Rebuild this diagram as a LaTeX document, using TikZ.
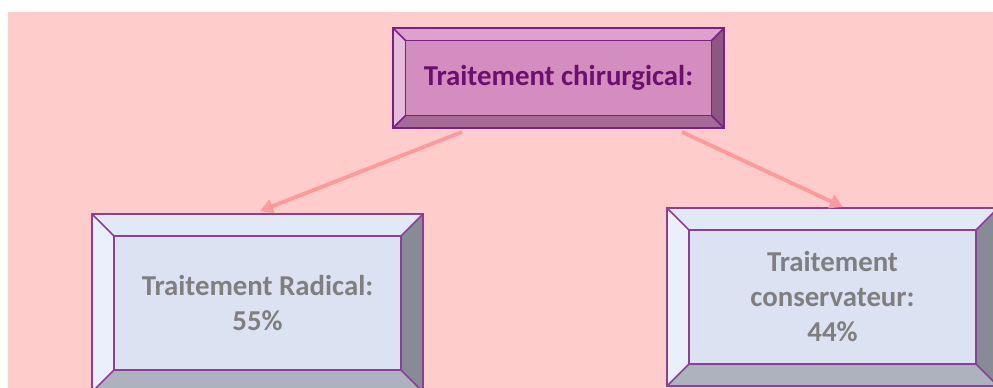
\documentclass[tikz,border=0pt]{standalone}
\usepackage{fontspec}
\setmainfont{Carlito}
\usetikzlibrary{arrows.meta,calc}
\definecolor{bg}{HTML}{FFCCCC}
\definecolor{arr}{HTML}{FF9A9A}
\definecolor{tface}{HTML}{D38DBE}
\definecolor{ttop}{HTML}{DCA2CC}
\definecolor{tleft}{HTML}{E6BADB}
\definecolor{tright}{HTML}{8D5781}
\definecolor{tbot}{HTML}{A76A97}
\definecolor{tbord}{HTML}{7B2184}
\definecolor{ttext}{HTML}{6B106F}
\definecolor{lface}{HTML}{DBE3F3}
\definecolor{ltop}{HTML}{E2E9F6}
\definecolor{lleft}{HTML}{EAF0FB}
\definecolor{lright}{HTML}{878B95}
\definecolor{lbot}{HTML}{ADB3BE}
\definecolor{lbord}{HTML}{8E3E98}
\definecolor{ltext}{HTML}{7F7F7F}
\newcommand\bevelbox[7]{%
  \coordinate (#1-inw) at ($(#1.north west)+(#2,#2)$);
  \coordinate (#1-ine) at ($(#1.north east)+(-#2,#2)$);
  \coordinate (#1-ise) at ($(#1.south east)+(-#2,-#2)$);
  \coordinate (#1-isw) at ($(#1.south west)+(#2,-#2)$);
  \fill[#3] (#1.north west) -- (#1.north east) -- (#1-ine) -- (#1-inw) -- cycle;
  \fill[#4] (#1.north west) -- (#1-inw) -- (#1-isw) -- (#1.south west) -- cycle;
  \fill[#5] (#1.north east) -- (#1.south east) -- (#1-ise) -- (#1-ine) -- cycle;
  \fill[#6] (#1.south west) -- (#1-isw) -- (#1-ise) -- (#1.south east) -- cycle;
  \draw[#7, line width=2pt] (#1.north west) rectangle (#1.south east);
  \draw[#7, line width=1.6pt] (#1-inw) rectangle (#1-ise);
  \draw[#7, line width=1.6pt] (#1.north west) -- (#1-inw) (#1.north east) -- (#1-ine)
    (#1.south east) -- (#1-ise) (#1.south west) -- (#1-isw);
}
\begin{document}
\begin{tikzpicture}[x=1pt,y=-1pt,
  boxbase/.style={inner sep=0pt, outer sep=0pt, minimum width=331pt, align=center,
    font=\fontsize{28.8}{35}\selectfont\bfseries},
  topbox/.style={boxbase, fill=tface, text=ttext, minimum height=100pt},
  lowbox/.style={boxbase, fill=lface, text=ltext, minimum height=178pt},
  link/.style={draw=arr, line width=3.8pt, -{Triangle[length=13pt,width=14pt]}}]
\useasboundingbox (0,0) rectangle (993,388);
\clip (0,0) rectangle (993,388);
\fill[white] (0,0) rectangle (993,388);
\fill[bg] (8,12) rectangle (993,388);
\node[topbox] (top) at (558.5,78) {Traitement chirurgical:};
\bevelbox{top}{12.5}{ttop}{tleft}{tright}{tbot}{tbord}
\node[lowbox] (rad) at (257.5,303) {Traitement Radical:\\55\%};
\bevelbox{rad}{22}{ltop}{lleft}{lright}{lbot}{lbord}
\node[lowbox] (cons) at (832.5,297) {Traitement\\conservateur:\\44\%};
\bevelbox{cons}{22}{ltop}{lleft}{lright}{lbot}{lbord}
\coordinate (s1) at ($(top.south west)+(69,4)$);
\coordinate (s2) at ($(top.south west)+(289,4)$);
\coordinate (e1) at ($(rad.north west)+(168,-3)$);
\coordinate (e2) at ($(cons.north west)+(176,-1)$);
\draw[link] (s1) -- (e1);
\draw[link] (s2) -- (e2);
\end{tikzpicture}
\end{document}
